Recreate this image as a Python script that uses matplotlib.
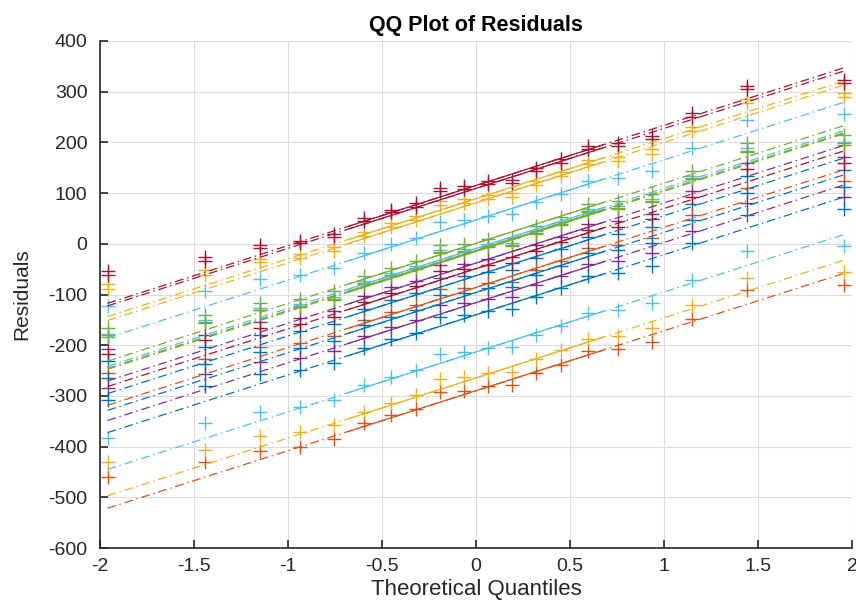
import numpy as np
import matplotlib
matplotlib.use("Agg")
import matplotlib.pyplot as plt

plt.rcParams['font.family'] = ['Liberation Sans', 'DejaVu Sans']

# theoretical normal quantiles for n = 20, p = (i-0.5)/20
q = [-1.9600, -1.4395, -1.1503, -0.9346, -0.7554, -0.5978, -0.4538, -0.3186, -0.1891, -0.0627,
     0.0627, 0.1891, 0.3186, 0.4538, 0.5978, 0.7554, 0.9346, 1.1503, 1.4395, 1.9600]

# sorted residuals, one list per column
r_darkred1 = [-54, -26, -2, 6, 20, 50, 67, 80, 111, 114, 123, 126, 150, 167, 192, 198, 212, 257, 312, 324]
r_darkred2 = [-61, -33, -8, 1, 14, 45, 62, 73, 105, 108, 118, 120, 144, 160, 186, 192, 206, 250, 305, 317]
r_yellow1 = [-80, -52, -29, -20, -6, 24, 41, 54, 85, 88, 97, 100, 124, 141, 166, 172, 186, 231, 286, 298]
r_yellow2 = [-89, -61, -36, -28, -14, 16, 33, 46, 77, 80, 89, 92, 116, 133, 158, 164, 178, 223, 278, 290]
r_lblue1 = [-122, -94, -70, -62, -48, -18, -1, 12, 43, 46, 55, 58, 82, 99, 124, 130, 144, 189, 244, 256]
r_green1 = [-166, -140, -116, -108, -94, -64, -47, -34, -3, 0, 9, 12, 36, 53, 78, 84, 98, 143, 198, 214]
r_lblue2 = [-178, -150, -126, -118, -104, -74, -57, -44, -13, -10, -1, 2, 26, 43, 68, 74, 88, 133, 188, 200]
r_green2 = [-180, -154, -130, -122, -108, -78, -61, -48, -17, -14, -5, -2, 22, 39, 64, 70, 84, 129, 184, 198]
r_green3 = [-183, -156, -131, -124, -110, -80, -63, -50, -19, -16, -7, -4, 20, 37, 62, 68, 82, 127, 182, 195]
r_purple1 = [-207, -179, -155, -147, -133, -103, -86, -73, -42, -39, -30, -27, -3, 14, 39, 45, 59, 104, 159, 171]
r_darkred3 = [-218, -190, -166, -158, -144, -114, -97, -84, -53, -50, -41, -38, -14, 3, 28, 34, 48, 93, 148, 160]
r_blue1 = [-232, -204, -180, -172, -158, -128, -111, -98, -67, -64, -55, -52, -28, -11, 14, 20, 34, 79, 134, 146]
r_orange1 = [-255, -227, -203, -195, -181, -151, -134, -121, -90, -87, -78, -75, -51, -34, -9, -3, 11, 56, 111, 123]
r_blue2 = [-265, -237, -213, -205, -191, -161, -144, -131, -100, -97, -88, -85, -61, -44, -19, -13, 1, 46, 101, 113]
r_purple2 = [-285, -257, -233, -225, -211, -181, -164, -151, -120, -117, -108, -105, -81, -64, -39, -33, -19, 26, 81, 93]
r_blue3 = [-309, -281, -257, -249, -235, -205, -188, -175, -144, -141, -132, -129, -105, -88, -63, -57, -43, 2, 57, 69]
r_lblue3 = [-383, -354, -331, -321, -308, -278, -262, -249, -218, -214, -206, -203, -179, -162, -137, -130, -116, -71, -15, -5]
r_yellow3 = [-431, -406, -380, -372, -358, -331, -313, -298, -267, -263, -255, -252, -227, -210, -188, -181, -166, -120, -68, -55]
r_orange2 = [-459, -431, -408, -400, -385, -354, -337, -326, -293, -291, -281, -278, -255, -239, -212, -208, -193, -149, -92, -81]

blue = (0, 0.447, 0.741)
orange = (0.850, 0.325, 0.098)
yellow = (0.929, 0.694, 0.125)
purple = (0.494, 0.184, 0.556)
green = (0.466, 0.674, 0.188)
lblue = (0.301, 0.745, 0.933)
darkred = (0.635, 0.078, 0.184)

series = [
    (r_blue1, blue), (r_orange1, orange), (r_yellow1, yellow), (r_purple1, purple),
    (r_green1, green), (r_lblue1, lblue), (r_darkred1, darkred),
    (r_blue2, blue), (r_orange2, orange), (r_yellow2, yellow), (r_purple2, purple),
    (r_green2, green), (r_lblue2, lblue), (r_darkred2, darkred),
    (r_blue3, blue), (r_yellow3, yellow), (r_green3, green), (r_lblue3, lblue), (r_darkred3, darkred),
]

fig = plt.figure(figsize=(8.56, 6.10), dpi=100)
ax = fig.add_axes([0.1168, 0.1016, 0.8785, 0.8312])

qx = np.array(q)
xq1, xq3 = -0.6745, 0.6745
for r, c in series:
    y = np.array(r, dtype=float)
    ax.plot(qx, y, '+', color=c, ms=10, mew=1.0, zorder=2)
    yq1, yq3 = np.percentile(y, [25, 75], method='hazen')
    slope = (yq3 - yq1) / (xq3 - xq1)
    xs = np.array([qx[0], qx[-1]])
    ax.plot(xs, yq1 + slope * (xs - xq1), color=c, lw=0.9, ls=(0, (7, 3, 1.2, 3)), zorder=3)
    xi = np.array([xq1, xq3])
    ax.plot(xi, yq1 + slope * (xi - xq1), color=c, lw=0.9, zorder=3)

ax.set_xlim(-2, 2)
ax.set_ylim(-600, 400)
ax.set_xticks(np.arange(-2, 2.01, 0.5))
ax.set_xticklabels(['-2', '-1.5', '-1', '-0.5', '0', '0.5', '1', '1.5', '2'])
ax.set_yticks(np.arange(-600, 401, 100))
ax.set_yticklabels([str(v) for v in range(-600, 401, 100)])
ax.grid(True, color='#dcdcdc', lw=0.8)
ax.set_axisbelow(True)
for s in ['top', 'right']:
    ax.spines[s].set_visible(False)
for s in ['left', 'bottom']:
    ax.spines[s].set_color('#262626')
    ax.spines[s].set_linewidth(1.2)
ax.tick_params(direction='in', length=6, width=1.2, color='#262626', labelsize=14, labelcolor='#262626')
ax.tick_params(axis='x', pad=7)
ax.tick_params(axis='y', pad=9)

ax.set_title('QQ Plot of Residuals', fontsize=15.5, fontweight='bold', color='black', pad=7)
ax.set_xlabel('Theoretical Quantiles', fontsize=16, color='#262626', labelpad=3)
ax.set_ylabel('Residuals', fontsize=15, color='#262626', labelpad=12)

fig.savefig('out.png', dpi=100)
